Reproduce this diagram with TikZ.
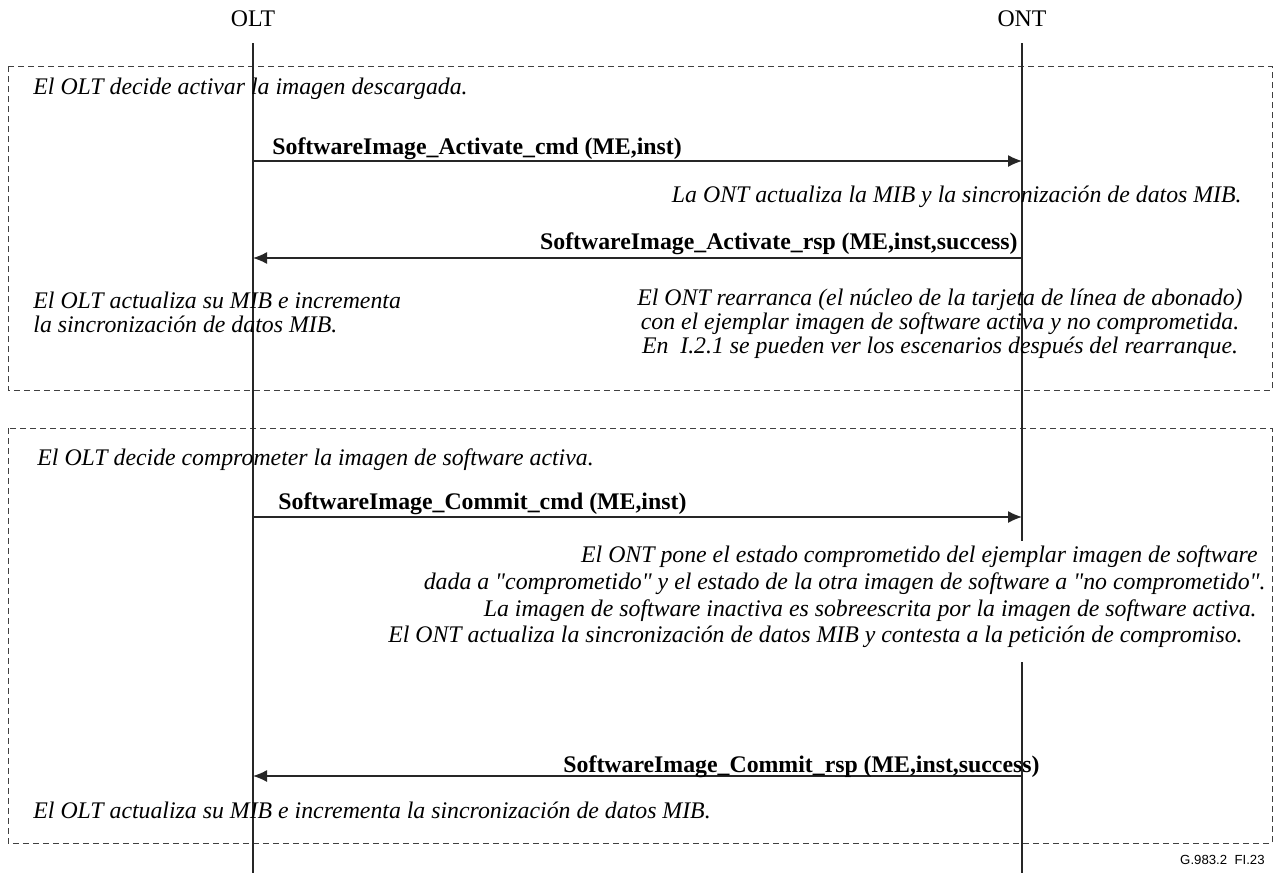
\documentclass[tikz,border=0pt]{standalone}
\usepackage{fontspec}
\setmainfont{Liberation Serif}
\newfontfamily\figfont{Liberation Sans}
\usetikzlibrary{positioning,arrows.meta}
\tikzset{
  party/.style={font=\fontsize{11.9}{13}\selectfont, inner sep=0pt},
  lifeline/.style={line width=0.65pt, black!85},
  msgarrow/.style={-{Latex[length=7pt, width=6pt]}, line width=0.65pt, black!85},
  msglabel/.style={font=\fontsize{11.9}{13}\selectfont\bfseries, inner sep=0pt},
  remark/.style={font=\fontsize{11.9}{12}\selectfont\itshape, inner sep=0pt},
  phasebox/.style={draw=black!75, line width=0.45pt, dash pattern=on 3pt off 2pt},
  figref/.style={font=\figfont\fontsize{6.6}{8}\selectfont, inner sep=0pt}
}
\newcommand{\qq}[1]{\textquotedbl#1\textquotedbl}
\begin{document}
\begin{tikzpicture}[x=0.5pt, y=-0.5pt, >=Latex]
  \useasboundingbox (0,0) rectangle (1279,873);

  % phases
  \draw[phasebox] (8,66) rectangle (1272,390);
  \draw[phasebox] (8,428) rectangle (1272,843);

  % parties and their lifelines
  \node[party] (olt) at (253,19) {OLT};
  \node[party] (ont) at (1022,19) {ONT};
  \coordinate (olttop) at (253,43);
  \coordinate (oltbot) at (253,873);
  \coordinate (onttop) at (1022,43);
  \coordinate (ontgapA) at (1022,541);
  \coordinate (ontgapB) at (1022,662);
  \coordinate (ontbot) at (1022,873);
  \draw[lifeline] (olttop) -- (oltbot);
  \draw[lifeline] (onttop) -- (ontgapA);
  \draw[lifeline] (ontgapB) -- (ontbot);

  % activation
  \node[remark, anchor=west] (actdecide) at (33,89) {El OLT decide activar la imagen descargada.};
  \coordinate (actcmdA) at (253,161);
  \coordinate (actcmdB) at (1022,161);
  \draw[msgarrow] (actcmdA) -- (actcmdB);
  \node[msglabel, anchor=west] (actcmd) at (272,149) {SoftwareImage\_Activate\_cmd (ME,inst)};
  \node[remark, anchor=east] (ontmib) at (1242,197) {La ONT actualiza la MIB y la sincronización de datos MIB.};
  \coordinate (actrspA) at (1022,258);
  \coordinate (actrspB) at (253,258);
  \draw[msgarrow] (actrspA) -- (actrspB);
  \node[msglabel, anchor=east] (actrsp) at (1018,244) {SoftwareImage\_Activate\_rsp (ME,inst,success)};
  \node[remark, anchor=west, align=left] (oltmib) at (33,312)
    {El OLT actualiza su MIB e incrementa\\la sincronización de datos MIB.};
  \node[remark, align=center] (reboot) at (940,324)
    {El ONT rearranca (el núcleo de la tarjeta de línea de abonado)\\
     con el ejemplar imagen de software activa y no comprometida.\\
     En\ \ I.2.1 se pueden ver los escenarios después del rearranque.};

  % commit
  \node[remark, anchor=west] (comdecide) at (37,460) {El OLT decide comprometer la imagen de software activa.};
  \coordinate (comcmdA) at (253,517);
  \coordinate (comcmdB) at (1022,517);
  \draw[msgarrow] (comcmdA) -- (comcmdB);
  \node[msglabel, anchor=west] (comcmd) at (278,504) {SoftwareImage\_Commit\_cmd (ME,inst)};
  \node[remark, anchor=east] (comA) at (1258,557) {El ONT pone el estado comprometido del ejemplar imagen de software};
  \node[remark, anchor=east] (comB) at (1266,584) {dada a \qq{comprometido} y el estado de la otra imagen de software a \qq{no comprometido}.};
  \node[remark, anchor=east] (comC) at (1257,611) {La imagen de software inactiva es sobreescrita por la imagen de software activa.};
  \node[remark, anchor=east] (comD) at (1243,637) {El ONT actualiza la sincronización de datos MIB y contesta a la petición de compromiso.};
  \coordinate (comrspA) at (1022,776);
  \coordinate (comrspB) at (253,776);
  \draw[msgarrow] (comrspA) -- (comrspB);
  \node[msglabel, anchor=east] (comrsp) at (1040,767) {SoftwareImage\_Commit\_rsp (ME,inst,success)};
  \node[remark, anchor=west] (oltdone) at (33,810) {El OLT actualiza su MIB e incrementa la sincronización de datos MIB.};

  \node[figref, anchor=east] (figid) at (1265,860) {G.983.2\ \ FI.23};
\end{tikzpicture}
\end{document}
